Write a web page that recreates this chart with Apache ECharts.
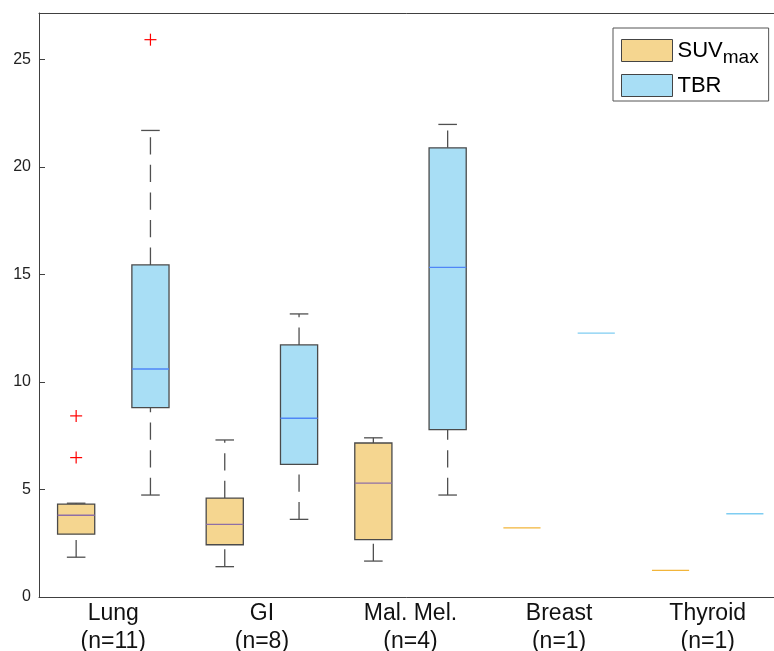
<!DOCTYPE html>
<html><head><meta charset="utf-8">
<script src="https://cdn.jsdelivr.net/npm/echarts@6/dist/echarts.min.js"></script>
<style>html,body{margin:0;padding:0;background:#fff}#c{width:774px;height:651px}</style>
</head><body><div id="c"></div>
<script>
const categories = ['Lung\n(n=11)', 'GI\n(n=8)', 'Mal. Mel.\n(n=4)', 'Breast\n(n=1)', 'Thyroid\n(n=1)'];
// [lower whisker, Q1, median, Q3, upper whisker]
const suvBoxes = [
  [1.85, 2.92, 3.80, 4.32, 4.36],
  [1.41, 2.43, 3.38, 4.60, 7.30],
  [1.67, 2.67, 5.29, 7.16, 7.40],
  [3.21, 3.21, 3.21, 3.21, 3.21],
  [1.24, 1.24, 1.24, 1.24, 1.24]
];
const tbrBoxes = [
  [4.74, 8.80, 10.60, 15.44, 21.69],
  [3.61, 6.17, 8.31, 11.72, 13.16],
  [4.74, 7.78, 15.32, 20.88, 21.97],
  [12.27, 12.27, 12.27, 12.27, 12.27],
  [3.87, 3.87, 3.87, 3.87, 3.87]
];
// [category index, value]
const suvOutliers = [[0, 8.42], [0, 6.48]];
const tbrOutliers = [[0, 25.91]];
const yMax = 27.15;
const yInterval = 5;

const FONT = '"Liberation Sans", Arial, Helvetica, sans-serif';
const AXIS_COLOR = '#404040';

function boxRender(side, fill, medColor, flatColor) {
  return function (params, api) {
    const ci = api.value(0);
    const band = api.size([1, 0])[0];
    const cx = api.coord([ci, 0])[0] + side * band / 4;
    const half = band / 8;
    const capHalf = band / 16;
    const py = i => api.coord([ci, api.value(i)])[1];
    const yMin = py(1), yQ1 = py(2), yMed = py(3), yQ3 = py(4), yMx = py(5);
    const children = [];
    if (Math.abs(yMx - yMin) < 0.5) {
      children.push({ type: 'line', shape: { x1: cx - half, y1: yMed, x2: cx + half, y2: yMed },
        style: { stroke: flatColor, lineWidth: 1.3 } });
      return { type: 'group', children };
    }
    const wStyle = { stroke: '#505050', lineWidth: 1.3, lineDash: [17.3, 10.3] };
    children.push({ type: 'line', shape: { x1: cx, y1: yMin, x2: cx, y2: yQ1 }, style: wStyle });
    children.push({ type: 'line', shape: { x1: cx, y1: yQ3, x2: cx, y2: yMx }, style: wStyle });
    const cStyle = { stroke: '#505050', lineWidth: 1.3 };
    children.push({ type: 'line', shape: { x1: cx - capHalf, y1: yMin, x2: cx + capHalf, y2: yMin }, style: cStyle });
    children.push({ type: 'line', shape: { x1: cx - capHalf, y1: yMx, x2: cx + capHalf, y2: yMx }, style: cStyle });
    children.push({ type: 'rect', shape: { x: cx - half, y: yQ3, width: 2 * half, height: yQ1 - yQ3 },
      style: { fill: fill, stroke: '#4a4a4a', lineWidth: 1.3 } });
    children.push({ type: 'line', shape: { x1: cx - half, y1: yMed, x2: cx + half, y2: yMed },
      style: { stroke: medColor, lineWidth: 1.3 } });
    return { type: 'group', children };
  };
}
function outlierRender(side) {
  return function (params, api) {
    const ci = api.value(0);
    const band = api.size([1, 0])[0];
    const p = api.coord([ci, api.value(1)]);
    const cx = p[0] + side * band / 4, cy = p[1];
    const s = 6;
    const st = { stroke: '#ff0000', lineWidth: 1.2 };
    return { type: 'group', children: [
      { type: 'line', shape: { x1: cx - s, y1: cy, x2: cx + s, y2: cy }, style: st },
      { type: 'line', shape: { x1: cx, y1: cy - s, x2: cx, y2: cy + s }, style: st }
    ] };
  };
}

const SUV_FILL = '#f5d690', TBR_FILL = '#a8def5';
const chart = echarts.init(document.getElementById('c'), null, { renderer: 'canvas' });
chart.setOption({
  animation: false,
  backgroundColor: '#fff',
  textStyle: { fontFamily: FONT },
  grid: { left: 39, top: 13, width: 743, height: 584, containLabel: false, outerBoundsMode: 'none' },
  xAxis: [
    { type: 'category', data: categories, position: 'bottom', boundaryGap: true,
      axisLine: { lineStyle: { color: AXIS_COLOR, width: 1 } },
      axisTick: { inside: true, alignWithLabel: true, length: 6, lineStyle: { color: AXIS_COLOR } },
      axisLabel: { fontSize: 23, lineHeight: 28, color: '#111', margin: 3, fontFamily: FONT },
      splitLine: { show: false } },
    { type: 'category', data: categories, position: 'top', boundaryGap: true,
      axisLine: { lineStyle: { color: AXIS_COLOR, width: 1 } },
      axisTick: { inside: true, alignWithLabel: true, length: 6, lineStyle: { color: AXIS_COLOR } },
      axisLabel: { show: false }, splitLine: { show: false } }
  ],
  yAxis: { type: 'value', min: 0, max: yMax, interval: yInterval,
    axisLine: { show: true, lineStyle: { color: AXIS_COLOR } },
    axisTick: { show: true, inside: true, length: 6, lineStyle: { color: AXIS_COLOR } },
    splitLine: { show: false },
    axisLabel: { fontSize: 16, color: '#222', margin: 8, fontFamily: FONT,
      formatter: v => (Math.abs(v % yInterval) < 1e-9 ? String(v) : '') } },
  legend: {
    orient: 'vertical', left: 613, top: 28, icon: 'rect',
    itemWidth: 51, itemHeight: 22, itemGap: 7,
    padding: [6, 10, 4, 8],
    backgroundColor: '#fff', borderColor: '#555', borderWidth: 1,
    data: [
      { name: 'SUVmax', itemStyle: { color: SUV_FILL, borderColor: '#444', borderWidth: 1 } },
      { name: 'TBR', itemStyle: { color: TBR_FILL, borderColor: '#444', borderWidth: 1 } }
    ],
    formatter: n => (n === 'SUVmax' ? '{a|SUV}{b|max}' : '{a|TBR}'),
    textStyle: { color: '#000', fontFamily: FONT,
      rich: { a: { fontSize: 22, lineHeight: 24, fontFamily: FONT },
              b: { fontSize: 19, lineHeight: 19, padding: [14, 0, 0, 0], fontFamily: FONT } } }
  },
  series: [
    { name: 'SUVmax', type: 'custom', xAxisIndex: 0, renderItem: boxRender(-1, SUV_FILL, '#8e6fa6', '#f2b53a'),
      encode: { x: 0, y: [1, 2, 3, 4, 5] }, itemStyle: { color: SUV_FILL },
      data: suvBoxes.map((b, i) => [i].concat(b)) },
    { name: 'TBR', type: 'custom', xAxisIndex: 0, renderItem: boxRender(1, TBR_FILL, '#4f86f7', '#7fcdf2'),
      encode: { x: 0, y: [1, 2, 3, 4, 5] }, itemStyle: { color: TBR_FILL },
      data: tbrBoxes.map((b, i) => [i].concat(b)) },
    { name: 'SUVmax', type: 'custom', xAxisIndex: 0, renderItem: outlierRender(-1),
      encode: { x: 0, y: 1 }, data: suvOutliers },
    { name: 'TBR', type: 'custom', xAxisIndex: 0, renderItem: outlierRender(1),
      encode: { x: 0, y: 1 }, data: tbrOutliers }
  ]
});
</script></body></html>
